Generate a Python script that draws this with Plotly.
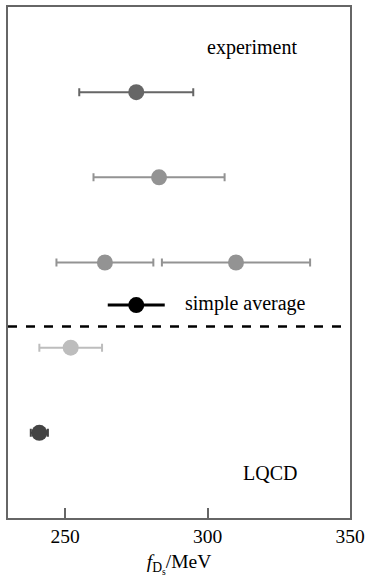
import plotly.graph_objects as go

# Data (MeV)
exp_values = [275, 283, 264, 310]
exp_errors = [20, 23, 17, 26]
exp_rows = [1, 2, 3, 3]
exp_colors = ["#666666", "#939393", "#939393", "#939393"]

avg_value = [275]
avg_error = [10]
avg_row = [3.5]

lqcd_values = [252, 241]
lqcd_errors = [11, 3]
lqcd_rows = [4, 5]
lqcd_colors = ["#bdbdbd", "#444444"]

x_ticks = [250, 300, 350]
x_range = [230, 350]

label_texts = ["experiment", "simple average", "LQCD"]
label_x = [315.5, 313.5, 322]
label_rows = [0.47, 3.48, 5.47]

FONT = "Liberation Serif, Times New Roman, serif"

fig = go.Figure()

for v, e, r, c in zip(exp_values + lqcd_values, exp_errors + lqcd_errors,
                      exp_rows + lqcd_rows, exp_colors + lqcd_colors):
    fig.add_trace(go.Scatter(
        x=[v], y=[r], mode="markers",
        marker=dict(size=16, color=c),
        error_x=dict(type="data", array=[e], color=c, thickness=2, width=4),
        showlegend=False, hoverinfo="x"))

fig.add_trace(go.Scatter(
    x=avg_value, y=avg_row, mode="markers",
    marker=dict(size=16, color="black"),
    error_x=dict(type="data", array=avg_error, color="black", thickness=3, width=0),
    showlegend=False))

fig.add_shape(type="line", xref="paper", x0=0, x1=1, yref="y", y0=3.75, y1=3.75,
              line=dict(color="black", width=2.5, dash="dash"))

for t, x, y in zip(label_texts, label_x, label_rows):
    fig.add_annotation(x=x, y=y, text=t, showarrow=False, xanchor="center",
                       font=dict(family=FONT, size=20, color="black"))

fig.update_layout(
    width=365, height=581,
    margin=dict(l=8, r=15, t=7, b=63),
    plot_bgcolor="white", paper_bgcolor="white",
    font=dict(family=FONT, size=19.5, color="black"),
    xaxis=dict(range=x_range, tickvals=x_ticks, ticks="inside", ticklen=10,
               tickcolor="#666666", tickwidth=1.5, automargin=False,
               showline=True, linecolor="#666666", linewidth=1.5, mirror=True,
               showgrid=False, zeroline=False,
               tickfont=dict(family=FONT, size=19.5),
               title=dict(text="<i>f</i><sub>D<sub>s</sub></sub>/MeV", standoff=8,
                          font=dict(family=FONT, size=19.5))),
    yaxis=dict(range=[6, 0], showticklabels=False, ticks="", automargin=False,
               showline=True, linecolor="#666666", linewidth=1.5, mirror=True,
               showgrid=False, zeroline=False),
)

fig.write_html("out.html", config={"displayModeBar": False},
               post_script="document.body.style.margin='0';document.body.style.overflow='hidden';")
